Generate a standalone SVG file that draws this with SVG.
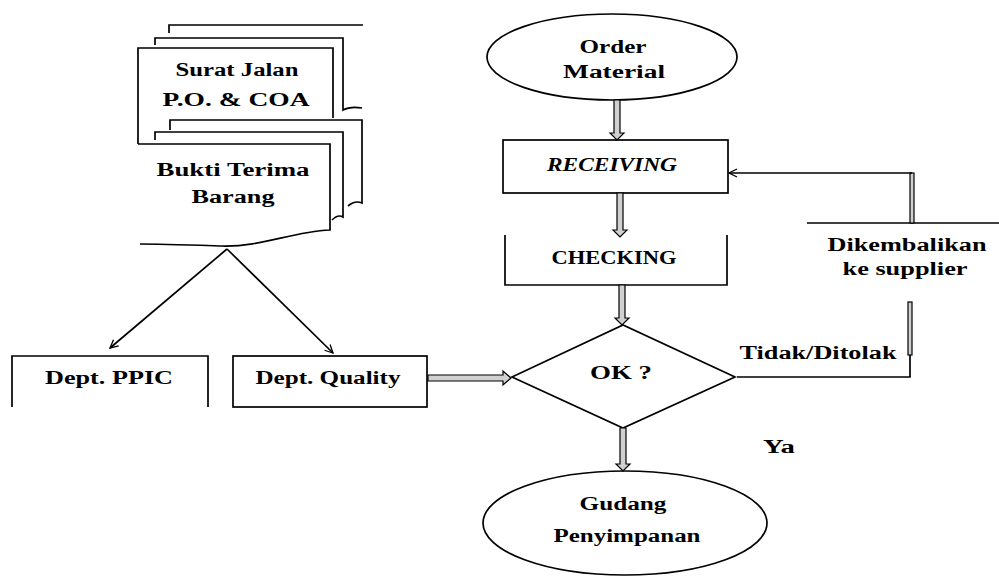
<svg xmlns="http://www.w3.org/2000/svg" width="999" height="577" viewBox="0 0 999 577">
<defs>
<marker id="ah" markerWidth="10" markerHeight="10" refX="9" refY="5" orient="auto" markerUnits="userSpaceOnUse">
<path d="M1,1 L9,5 L1,9" fill="none" stroke="#000" stroke-width="1.3"/>
</marker>
</defs>
<style>
.s{fill:none;stroke:#000;stroke-width:1.7}
.b{fill:#fff;stroke:#000;stroke-width:1.7}
.blk{fill:#d0d0d0;stroke:#000;stroke-width:1.2}
.t{font-family:"Liberation Serif","Times New Roman",serif;font-size:18px;font-weight:bold;fill:#000;text-anchor:middle}
</style>
<rect width="999" height="577" fill="#fff"/>

<g id="doc-surat-jalan">
<path class="s" d="M169,33 V25 H363"/>
<path class="s" d="M155,45 V38 H343 V110 Q350,106 362,108"/>
<path class="b" d="M138,144 V48 H333 V118"/>
<text class="t" x="237" y="76" textLength="123" lengthAdjust="spacingAndGlyphs">Surat Jalan</text>
<text class="t" x="236" y="106" textLength="147" lengthAdjust="spacingAndGlyphs">P.O. &amp; COA</text>
</g>

<g id="doc-bukti-terima">
<path class="b" d="M170,130 V120 H362 V203 Q355,200 348,206"/>
<path class="b" d="M155,140 V132 H343 V217 Q338,214 332,220"/>
<path class="b" d="M138,144 H330 V230 C290,232 262,247 222,246 C190,245 160,244 140,244"/>
<text class="t" x="233" y="176" textLength="153" lengthAdjust="spacingAndGlyphs">Bukti Terima</text>
<text class="t" x="233" y="203" textLength="83" lengthAdjust="spacingAndGlyphs">Barang</text>
</g>

<g id="order-material">
<ellipse class="b" cx="612" cy="57" rx="125" ry="43"/>
<text class="t" x="613" y="53" textLength="67" lengthAdjust="spacingAndGlyphs">Order</text>
<text class="t" x="614" y="78" textLength="102" lengthAdjust="spacingAndGlyphs">Material</text>
</g>

<g id="receiving">
<rect class="b" x="503" y="140" width="225" height="53"/>
<text class="t" x="612" y="171" font-style="italic" textLength="130" lengthAdjust="spacingAndGlyphs">RECEIVING</text>
</g>

<g id="checking">
<path class="s" d="M505,235 V285 H727 V235"/>
<text class="t" x="614" y="264" textLength="125" lengthAdjust="spacingAndGlyphs">CHECKING</text>
</g>

<g id="ok">
<polygon class="b" points="512,377 623,325 735,377 623,428"/>
<text class="t" x="621" y="379" textLength="62" lengthAdjust="spacingAndGlyphs">OK ?</text>
</g>

<g id="dept-ppic">
<path class="s" d="M12,407 V356 H208 V407"/>
<text class="t" x="109" y="384" textLength="128" lengthAdjust="spacingAndGlyphs">Dept. PPIC</text>
</g>

<g id="dept-quality">
<rect class="b" x="233" y="356" width="194" height="51"/>
<text class="t" x="328" y="384" textLength="145" lengthAdjust="spacingAndGlyphs">Dept. Quality</text>
</g>

<g id="dikembalikan">
<path class="s" d="M807,223 H999"/>
<text class="t" x="907" y="251" textLength="159" lengthAdjust="spacingAndGlyphs">Dikembalikan</text>
<text class="t" x="905" y="275" textLength="125" lengthAdjust="spacingAndGlyphs">ke supplier</text>
</g>

<g id="gudang">
<ellipse class="b" cx="625" cy="523" rx="142" ry="52"/>
<text class="t" x="623" y="510" textLength="87" lengthAdjust="spacingAndGlyphs">Gudang</text>
<text class="t" x="627" y="542" textLength="147" lengthAdjust="spacingAndGlyphs">Penyimpanan</text>
</g>

<g id="connectors">
<path class="s" d="M227,249 L110,348" stroke-width="1.4" marker-end="url(#ah)"/>
<path class="s" d="M227,249 L333,353" stroke-width="1.4" marker-end="url(#ah)"/>
<polygon class="blk" points="614,100 620,100 620,133 624,133 617,140 610,133 614,133"/>
<polygon class="blk" points="617,193 623,193 623,230 627,230 620,237 613,230 617,230"/>
<polygon class="blk" points="619,285 625,285 625,318 629,318 622,325 615,318 619,318"/>
<polygon class="blk" points="620,428 626,428 626,464 630,464 623,471 616,464 620,464"/>
<polygon class="blk" points="428,375 503,375 503,371 511,378 503,385 503,381 428,381"/>
<path class="s" d="M737,377 H910 V355"/>
<rect class="blk" x="908" y="302" width="4" height="53"/>
<rect class="blk" x="910" y="173" width="4" height="50"/>
<path class="s" d="M912,173 H729" marker-end="url(#ah)"/>
<text class="t" x="818" y="359" textLength="157" lengthAdjust="spacingAndGlyphs">Tidak/Ditolak</text>
<text class="t" x="779" y="453" textLength="32" lengthAdjust="spacingAndGlyphs">Ya</text>
</g>
</svg>
